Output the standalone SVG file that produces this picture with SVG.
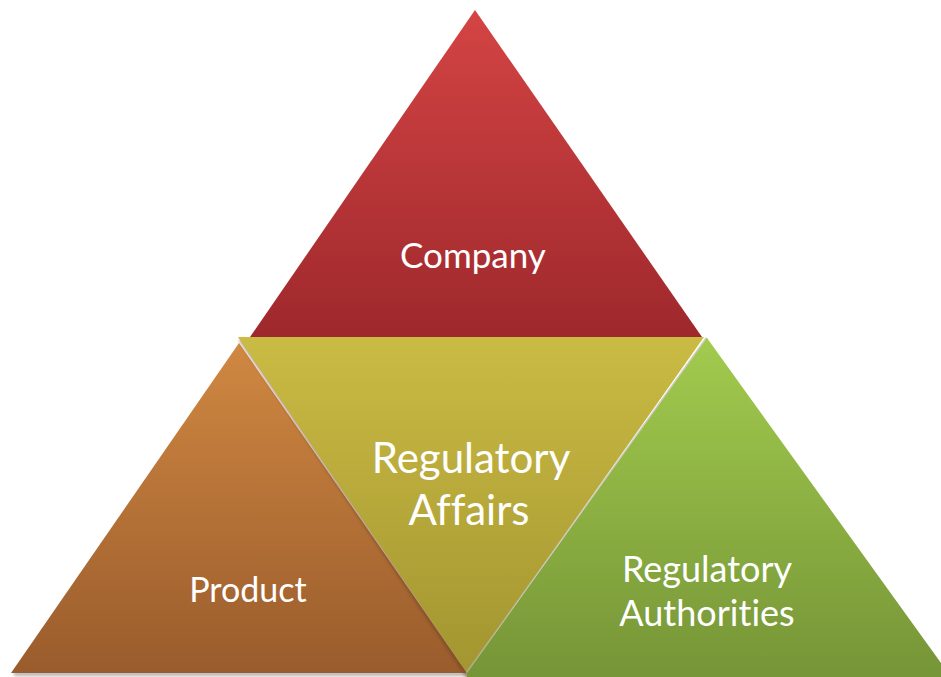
<svg xmlns="http://www.w3.org/2000/svg" width="941" height="677" viewBox="0 0 941 677">
  <defs>
    <linearGradient id="gRed" x1="0" y1="0" x2="0" y2="1">
      <stop offset="0" stop-color="#d44444"/>
      <stop offset="1" stop-color="#9e282c"/>
    </linearGradient>
    <linearGradient id="gYellow" x1="0" y1="0" x2="0" y2="1">
      <stop offset="0" stop-color="#cabb44"/>
      <stop offset="1" stop-color="#a39530"/>
    </linearGradient>
    <linearGradient id="gOrange" x1="0" y1="0" x2="0" y2="1">
      <stop offset="0" stop-color="#d08842"/>
      <stop offset="1" stop-color="#9a5c2c"/>
    </linearGradient>
    <linearGradient id="gGreen" x1="0" y1="0" x2="0" y2="1">
      <stop offset="0" stop-color="#a2cb4e"/>
      <stop offset="1" stop-color="#769537"/>
    </linearGradient>
    <filter id="soft" x="-5%" y="-5%" width="110%" height="110%">
      <feGaussianBlur stdDeviation="1.5"/>
    </filter>
  </defs>
  <style>
    text { font-family: Lato, "Liberation Sans", sans-serif; fill: #ffffff; text-anchor: middle; font-variant-ligatures: none; font-feature-settings: "liga" 0; }
  </style>
  <rect x="0" y="0" width="941" height="677" fill="#ffffff"/>
  <rect x="14" y="672" width="454" height="4" fill="#b4b4b4" filter="url(#soft)"/>
  <g id="company">
    <polygon points="475,10 250,337 702,337" fill="url(#gRed)"/>
    <text x="473" y="268" font-size="35">Company</text>
  </g>
  <g id="product">
    <polygon points="239,343 11,673 467,673" fill="url(#gOrange)"/>
    <text x="248" y="602" font-size="34">Product</text>
  </g>
  <g id="regulatory-affairs">
    <polygon points="241,339 470,673 468,676" fill="none" stroke="#6e4420" stroke-width="5" opacity="0.5" filter="url(#soft)"/>
    <polygon points="238,337 704,337 467,673" fill="url(#gYellow)"/>
    <text x="471" y="473" font-size="42">Regulatory</text>
    <text x="469" y="525" font-size="42">Affairs</text>
  </g>
  <g id="regulatory-authorities">
    <line x1="707" y1="338" x2="467" y2="673" stroke="#b8b8a8" stroke-width="3" opacity="0.7"/>
    <polygon points="707,338 467,673 467,677 951,677" fill="url(#gGreen)"/>
    <text x="707" y="582" font-size="36">Regulatory</text>
    <text x="707" y="626" font-size="36">Authorities</text>
  </g>
  <g id="connectors"/>
</svg>
